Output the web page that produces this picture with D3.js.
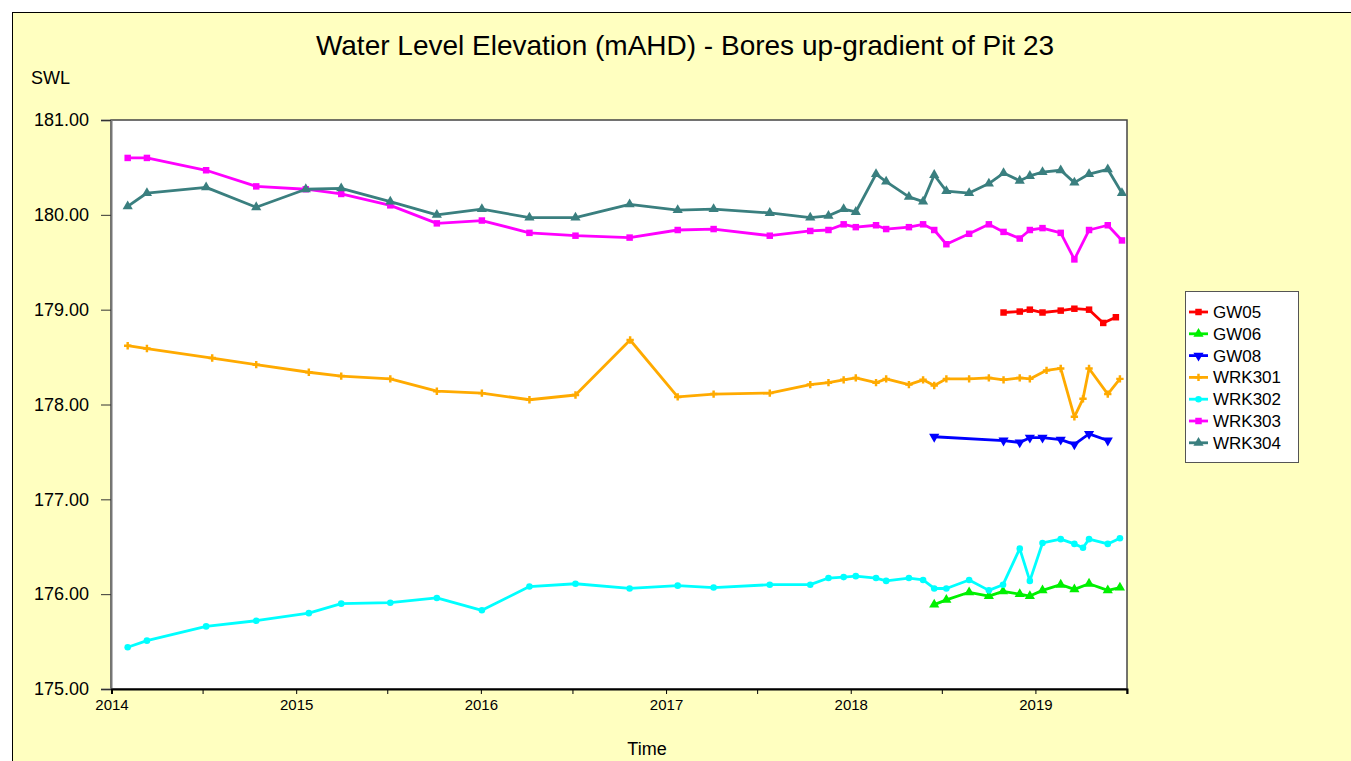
<!DOCTYPE html>
<html lang="en">
<head>
<meta charset="UTF-8">
<title>Water Level Elevation</title>
<script src="https://d3js.org/d3.v7.min.js"></script>
<style>
  body { margin: 0; background: #fff; }
  svg text { font-family: "Liberation Sans", Arial, sans-serif; fill: #000; }
</style>
</head>
<body>
<script>
    // series data (date, water level mAHD)
    var gw05Dates = ["2018-10-30","2018-12-01","2018-12-21","2019-01-15","2019-02-20","2019-03-19","2019-04-17","2019-05-15","2019-06-09"];
    var gw05Values = [178.97,178.98,179.00,178.97,178.99,179.01,179.00,178.86,178.92];

    var gw06Dates = ["2018-06-15","2018-07-09","2018-08-23","2018-10-01","2018-10-29","2018-12-01","2018-12-21","2019-01-15","2019-02-20","2019-03-19","2019-04-17","2019-05-24","2019-06-17"];
    var gw06Values = [175.89,175.94,176.02,175.98,176.03,176.00,175.98,176.04,176.10,176.05,176.11,176.04,176.07];

    var gw08Dates = ["2018-06-15","2018-10-30","2018-12-01","2018-12-21","2019-01-15","2019-02-20","2019-03-19","2019-04-17","2019-05-24"];
    var gw08Values = [177.66,177.62,177.60,177.65,177.65,177.63,177.58,177.69,177.62];

    var wrk301Dates = ["2014-02-02","2014-03-12","2014-07-19","2014-10-14","2015-01-26","2015-03-31","2015-07-06","2015-10-06","2016-01-03","2016-04-06","2016-07-06","2016-10-22","2017-01-24","2017-04-05","2017-07-25","2017-10-13","2017-11-18","2017-12-18","2018-01-11","2018-02-20","2018-03-12","2018-04-26","2018-05-24","2018-06-15","2018-07-09","2018-08-23","2018-10-01","2018-10-30","2018-12-01","2018-12-21","2019-01-23","2019-02-20","2019-03-19","2019-04-05","2019-04-17","2019-05-24","2019-06-17"];
    var wrk301Values = [178.62,178.59,178.49,178.42,178.34,178.30,178.27,178.14,178.12,178.05,178.10,178.68,178.08,178.11,178.12,178.21,178.23,178.26,178.28,178.23,178.27,178.21,178.26,178.20,178.27,178.27,178.28,178.26,178.28,178.27,178.36,178.38,177.87,178.06,178.38,178.11,178.27];

    var wrk302Dates = ["2014-02-02","2014-03-12","2014-07-07","2014-10-14","2015-01-26","2015-03-31","2015-07-06","2015-10-06","2016-01-03","2016-04-06","2016-07-06","2016-10-21","2017-01-24","2017-04-05","2017-07-25","2017-10-13","2017-11-18","2017-12-18","2018-01-11","2018-02-20","2018-03-12","2018-04-26","2018-05-24","2018-06-15","2018-07-09","2018-08-23","2018-10-01","2018-10-29","2018-12-01","2018-12-21","2019-01-15","2019-02-20","2019-03-19","2019-04-05","2019-04-17","2019-05-24","2019-06-17"];
    var wrk302Values = [175.44,175.51,175.66,175.72,175.80,175.90,175.91,175.96,175.83,176.08,176.11,176.06,176.09,176.07,176.10,176.10,176.17,176.18,176.19,176.17,176.14,176.17,176.15,176.06,176.06,176.15,176.04,176.10,176.48,176.14,176.54,176.58,176.53,176.49,176.58,176.53,176.59];

    var wrk303Dates = ["2014-02-02","2014-03-12","2014-07-07","2014-10-14","2015-01-20","2015-03-31","2015-07-06","2015-10-06","2016-01-03","2016-04-06","2016-07-06","2016-10-21","2017-01-24","2017-04-05","2017-07-25","2017-10-13","2017-11-18","2017-12-18","2018-01-11","2018-02-20","2018-03-12","2018-04-26","2018-05-24","2018-06-15","2018-07-09","2018-08-23","2018-10-01","2018-10-30","2018-12-01","2018-12-21","2019-01-15","2019-02-20","2019-03-19","2019-04-17","2019-05-24","2019-06-21"];
    var wrk303Values = [180.60,180.60,180.47,180.30,180.27,180.22,180.10,179.91,179.94,179.81,179.78,179.76,179.84,179.85,179.78,179.83,179.84,179.90,179.87,179.89,179.85,179.87,179.90,179.84,179.69,179.80,179.90,179.82,179.75,179.84,179.86,179.81,179.53,179.84,179.89,179.73];

    var wrk304Dates = wrk303Dates;
    var wrk304Values = [180.09,180.23,180.29,180.08,180.27,180.28,180.14,180.00,180.06,179.97,179.97,180.11,180.05,180.06,180.02,179.97,179.99,180.06,180.03,180.43,180.35,180.19,180.14,180.42,180.25,180.23,180.33,180.44,180.36,180.41,180.45,180.47,180.34,180.43,180.48,180.23];

    var seriesNames = ["GW05","GW06","GW08","WRK301","WRK302","WRK303","WRK304"];
    var seriesColors = ["#ff0000","#00f000","#0000ff","#ffaa00","#00ffff","#ff00ff","#3a7f7f"];
    var seriesDates = [gw05Dates, gw06Dates, gw08Dates, wrk301Dates, wrk302Dates, wrk303Dates, wrk304Dates];
    var seriesValues = [gw05Values, gw06Values, gw08Values, wrk301Values, wrk302Values, wrk303Values, wrk304Values];

    var yTicks = [175, 176, 177, 178, 179, 180, 181];
    var xYears = [2014, 2015, 2016, 2017, 2018, 2019];

    var width = 1351, height = 761;
    var parse = d3.timeParse("%Y-%m-%d");

    var svg = d3.select("body").append("svg")
        .attr("width", width)
        .attr("height", height);

    // panel background
    svg.append("rect")
        .attr("x", 12.5).attr("y", 12.5)
        .attr("width", width).attr("height", height)
        .style("fill", "#ffffc0")
        .style("stroke", "#000");

    var x = d3.scaleTime()
        .domain([new Date(2014, 0, 1), new Date(2019, 6, 1)])
        .range([111.5, 1127]);
    var y = d3.scaleLinear()
        .domain([175, 181])
        .range([689, 120]);

    // plot area
    svg.append("rect")
        .attr("x", 111).attr("y", 120)
        .attr("width", 1016).attr("height", 569)
        .style("fill", "#fff")
        .style("stroke", "#444")
        .style("stroke-width", 1.5);

    // y axis
    var yAxis = svg.append("g").attr("transform", "translate(111,0)")
        .call(d3.axisLeft(y).tickValues(yTicks).tickSize(10).tickPadding(12).tickFormat(d3.format(".2f")));
    yAxis.select(".domain").style("stroke", "#777").style("stroke-width", 2);
    yAxis.selectAll(".tick line").style("stroke", "#333");
    yAxis.selectAll("text").style("font-size", "18px");

    // x axis, years plus half-year minor ticks
    var xAxis = svg.append("g").attr("transform", "translate(0,689)")
        .call(d3.axisBottom(x)
            .tickValues(xYears.map(function(yr) { return new Date(yr, 0, 1); }))
            .tickSize(5).tickPadding(5)
            .tickFormat(d3.timeFormat("%Y")));
    xAxis.select(".domain").style("stroke", "#000").style("stroke-width", 2);
    xAxis.selectAll("text").style("font-size", "15px");
    svg.append("g").selectAll("line")
        .data(xYears)
        .enter().append("line")
        .attr("x1", function(d) { return x(new Date(d, 6, 1)); })
        .attr("x2", function(d) { return x(new Date(d, 6, 1)); })
        .attr("y1", 689).attr("y2", 694)
        .style("stroke", "#000");

    // titles
    svg.append("text")
        .attr("x", 685).attr("y", 55)
        .attr("text-anchor", "middle")
        .style("font-size", "28px")
        .text("Water Level Elevation (mAHD) - Bores up-gradient of Pit 23");
    svg.append("text")
        .attr("x", 31).attr("y", 84)
        .style("font-size", "18px")
        .text("SWL");
    svg.append("text")
        .attr("x", 647).attr("y", 755)
        .attr("text-anchor", "middle")
        .style("font-size", "18px")
        .text("Time");

    // marker shapes per series
    var markers = [
        { type: d3.symbolSquare, size: 42, rot: 0 },
        { type: d3.symbolTriangle, size: 45, rot: 0 },
        { type: d3.symbolTriangle, size: 45, rot: 180 },
        { type: d3.symbolCross, size: 30, rot: 0 },
        { type: d3.symbolCircle, size: 34, rot: 0 },
        { type: d3.symbolSquare, size: 42, rot: 0 },
        { type: d3.symbolTriangle, size: 45, rot: 0 }
    ];

    var line = d3.line()
        .x(function(d) { return x(d.date); })
        .y(function(d) { return y(d.value); });

    seriesNames.forEach(function(name, i) {
        var pts = seriesDates[i].map(function(d, j) {
            return { date: parse(d), value: seriesValues[i][j] };
        });
        var g = svg.append("g");
        g.append("path")
            .datum(pts)
            .attr("d", line)
            .style("fill", "none")
            .style("stroke", seriesColors[i])
            .style("stroke-width", 2.8)
            .style("stroke-linejoin", "round");
        g.selectAll("path.pt")
            .data(pts)
            .enter().append("path")
            .attr("class", "pt")
            .attr("d", d3.symbol().type(markers[i].type).size(markers[i].size))
            .attr("transform", function(d) {
                return "translate(" + x(d.date) + "," + y(d.value) + ")rotate(" + markers[i].rot + ")";
            })
            .style("fill", seriesColors[i]);
    });

    // legend
    var legend = svg.append("g");
    legend.append("rect")
        .attr("x", 1185.5).attr("y", 291.5)
        .attr("width", 113).attr("height", 171)
        .style("fill", "#fff")
        .style("stroke", "#555");
    seriesNames.forEach(function(name, i) {
        var ly = 312 + i * 21.8;
        legend.append("line")
            .attr("x1", 1189).attr("x2", 1208)
            .attr("y1", ly).attr("y2", ly)
            .style("stroke", seriesColors[i])
            .style("stroke-width", 2.8);
        legend.append("path")
            .attr("d", d3.symbol().type(markers[i].type).size(markers[i].size))
            .attr("transform", "translate(1198.5," + ly + ")rotate(" + markers[i].rot + ")")
            .style("fill", seriesColors[i]);
        legend.append("text")
            .attr("x", 1213).attr("y", ly)
            .attr("dy", "0.35em")
            .style("font-size", "17px")
            .text(name);
    });
</script>
</body>
</html>
